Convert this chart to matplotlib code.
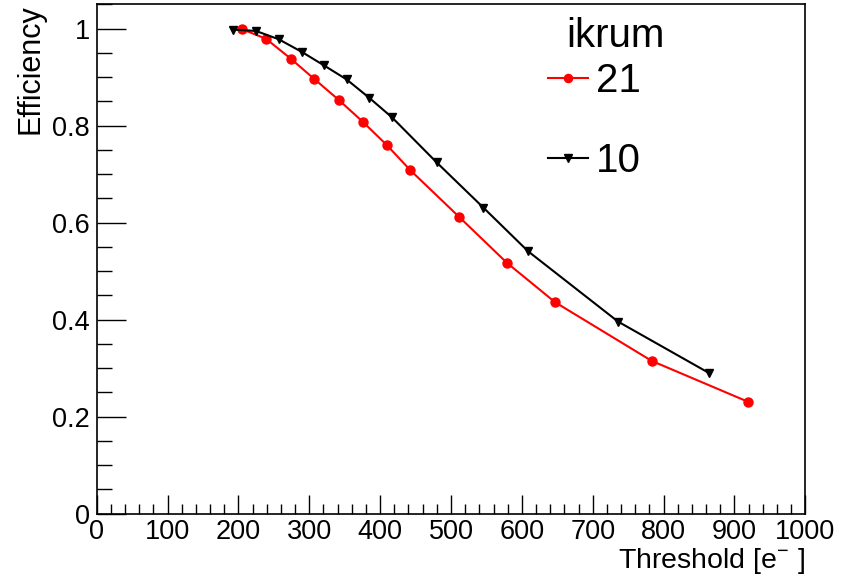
import matplotlib
matplotlib.use("Agg")
import matplotlib.pyplot as plt
from matplotlib.ticker import MultipleLocator

plt.rcParams['font.family'] = ['Liberation Sans', 'DejaVu Sans']
plt.rcParams['mathtext.fontset'] = 'custom'
plt.rcParams['mathtext.rm'] = 'Liberation Sans'
plt.rcParams['mathtext.it'] = 'Liberation Sans'

# Data
thr_21 = [204.6, 238.9, 273.8, 307.1, 341.5, 375.4, 409.3, 442.6, 511.3, 579.0, 646.8, 783.2, 918.7]
eff_21 = [0.999, 0.979, 0.938, 0.896, 0.853, 0.808, 0.760, 0.708, 0.612, 0.517, 0.436, 0.315, 0.231]
thr_10 = [192.4, 224.8, 256.8, 289.3, 320.8, 352.8, 384.8, 416.7, 479.8, 545.6, 608.7, 735.7, 864.1]
eff_10 = [0.998, 0.995, 0.978, 0.952, 0.924, 0.895, 0.857, 0.817, 0.724, 0.631, 0.541, 0.396, 0.290]
legend_title = "ikrum"
labels = ["21", "10"]

fig = plt.figure(figsize=(8.42, 5.77), dpi=100)
ax = fig.add_axes([96.7/842, (577-513.7)/577, (805.3-96.7)/842, (513.7-4.3)/577])

l1, = ax.plot(thr_21, eff_21, color='#ff0000', lw=1.5, marker='o', ms=6.5, label=labels[0])
l2, = ax.plot(thr_10, eff_10, color='black', lw=1.5, marker='v', ms=6, label=labels[1])

ax.set_xlim(0, 1000)
ax.set_ylim(0, 1.05)
ax.xaxis.set_major_locator(MultipleLocator(100))
ax.xaxis.set_minor_locator(MultipleLocator(20))
ax.yaxis.set_major_locator(MultipleLocator(0.2))
ax.yaxis.set_minor_locator(MultipleLocator(0.05))
ax.yaxis.set_major_formatter(matplotlib.ticker.FuncFormatter(lambda v, p: f"{v:g}"))

ax.tick_params(axis='both', which='both', direction='in', top=False, right=False, labelsize=19.5, width=1, color='black')
ax.tick_params(axis='x', which='major', length=14, pad=4)
ax.tick_params(axis='x', which='minor', length=7)
ax.tick_params(axis='y', which='major', length=21, pad=5)
ax.tick_params(axis='y', which='minor', length=10.5)
for s in ax.spines.values():
    s.set_linewidth(1.2)
    s.set_color('black')

ax.set_xlabel(r'Threshold [e$^{-}$ ]', fontsize=20.5, loc='right')
ax.xaxis.set_label_coords(1.0, -0.063)
ax.set_ylabel('Efficiency', fontsize=22, loc='top')
ax.yaxis.set_label_coords(-0.072, 1.0)

leg = ax.legend(handles=[l1, l2], loc='upper left', bbox_to_anchor=((548-96.7)/708.6, (513.7-62)/509.4),
                frameon=False, fontsize=29, handlelength=1.0, handletextpad=0.2,
                labelspacing=1.05, borderpad=0, borderaxespad=0, markerscale=0.9)
ax.text((566-96.7)/708.6, (513.7-47)/509.4, legend_title, transform=ax.transAxes,
        fontsize=29, ha='left', va='baseline')

fig.savefig('out.png', dpi=100)
